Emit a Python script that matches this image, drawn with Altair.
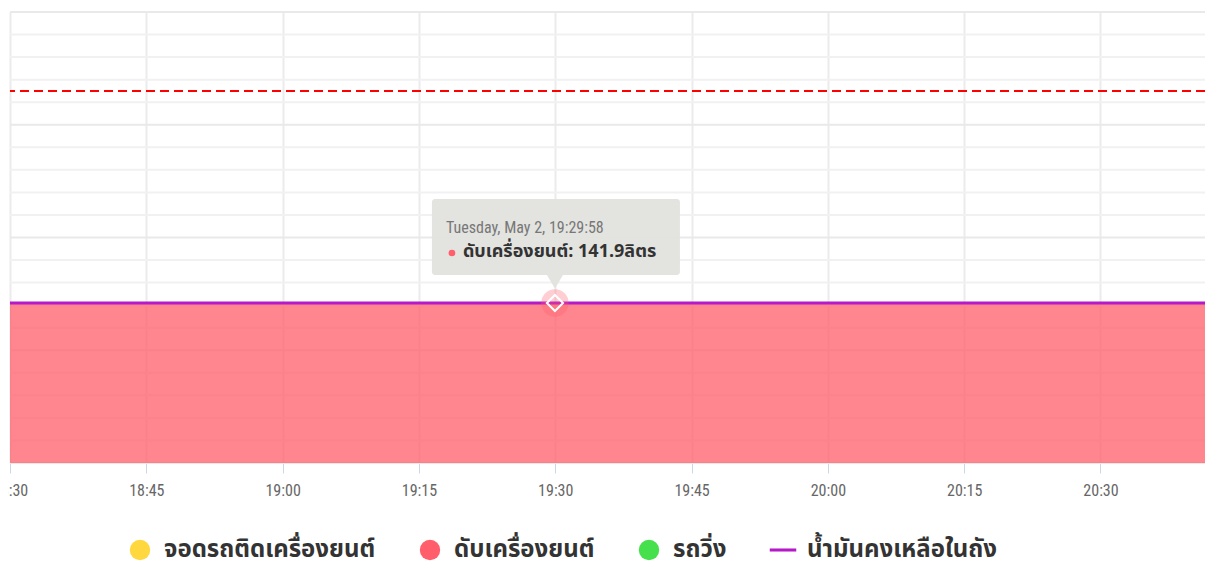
import altair as alt
import pandas as pd

# ---- data ----
times = ["2023-05-02T18:30:00Z", "2023-05-02T19:29:58Z", "2023-05-02T20:41:30Z"]
engine_off = [141.9, 141.9, 141.9]      # ดับเครื่องยนต์ (area)
fuel_left = [141.9, 141.9, 141.9]       # น้ำมันคงเหลือในถัง (line)
tank_limit = [330]                       # red dashed reference line
series_names = ["จอดรถติดเครื่องยนต์", "ดับเครื่องยนต์", "รถวิ่ง", "น้ำมันคงเหลือในถัง"]
series_colors = ["#ffd83f", "#ff5e6a", "#45e04b", "#b51ac8"]
hover_time = "2023-05-02T19:29:58Z"
hover_value = 141.9
hover_head = "Tuesday, May 2, 19:29:58"
unit = "ลิตร"
tick_times = [(18, 30), (18, 45), (19, 0), (19, 15), (19, 30), (19, 45),
              (20, 0), (20, 15), (20, 30)]

x_start = alt.DateTime(year=2023, month=5, date=2, hours=18, minutes=30, utc=True)
x_end = alt.DateTime(year=2023, month=5, date=2, hours=20, minutes=41, seconds=30, utc=True)
y_ticks = list(range(0, 401, 20))

THAI = "Noto Sans Thai, Noto Sans, DejaVu Sans, sans-serif"
COND = "Liberation Sans Narrow, Roboto Condensed, Roboto, sans-serif"

df = pd.DataFrame({"t": times, "off": engine_off, "fuel": fuel_left})
hov = pd.DataFrame({"t": [hover_time], "v": [hover_value], "head": [hover_head],
                    "lab": [f"{series_names[1]}: {hover_value}{unit}"]})
lim = pd.DataFrame({"v": tank_limit})
leg = pd.DataFrame({"cat": series_names})
grid = pd.DataFrame({"g": y_ticks})

xscale = alt.Scale(type="utc", domain=[x_start, x_end])
yscale = alt.Scale(domain=[0, 400], nice=False, zero=True)

x_enc = alt.X("t:T", scale=xscale, title=None,
              axis=alt.Axis(format="%H:%M", values=[
                  alt.DateTime(year=2023, month=5, date=2, hours=h, minutes=m, utc=True)
                  for h, m in tick_times],
                            grid=True, gridColor="#ebebeb", gridWidth=2,
                            domainColor="#ccd6eb", domainWidth=1,
                            tickColor="#ccd6eb", tickSize=10, tickWidth=1,
                            labelColor="#666666", labelFontSize=16, labelFont=COND,
                            labelPadding=9, labelFlush=False, labelOverlap=False))

hgrid = alt.Chart(grid).mark_rule(strokeWidth=2).encode(
    y=alt.Y("g:Q", scale=yscale, axis=None),
    color=alt.condition("datum.g % 100 === 0", alt.value("#e9e9e9"), alt.value("#f1f1f1")))

area = alt.Chart(df).mark_area(color=series_colors[1], opacity=0.75,
                               line={"color": "#ff6f78", "strokeWidth": 1}).encode(
    x=x_enc, y=alt.Y("off:Q", scale=yscale, axis=None))

fuel_line = alt.Chart(df).mark_line(color=series_colors[3], strokeWidth=3).encode(
    x=alt.X("t:T", scale=xscale), y=alt.Y("fuel:Q", scale=yscale))

limit_rule = alt.Chart(lim).mark_rule(color="#ff0000", strokeWidth=2, strokeDash=[9, 5]).encode(
    y=alt.Y("v:Q", scale=yscale))

hx = alt.X("t:T", scale=xscale)
hy = alt.Y("v:Q", scale=yscale)

halo = alt.Chart(hov).mark_point(filled=True, shape="circle", size=750, color="#ff5e6a",
                                 opacity=0.3).encode(x=hx, y=hy)
diamond = alt.Chart(hov).mark_point(filled=False, shape="diamond", size=260, color="#ffffff",
                                    strokeWidth=2, opacity=1).encode(x=hx, y=hy)

box = alt.Chart(hov).mark_rect(fill="#e1e1de", opacity=0.95, cornerRadius=3,
                               xOffset=-123, x2Offset=125, yOffset=-104, y2Offset=-28).encode(
    x=hx, x2="t:T", y=hy, y2="v:Q")
pointer = alt.Chart(hov).mark_point(filled=True, shape="M-1,0L1,0L0,1.7Z", size=256,
                                    color="#e1e1de", opacity=0.95, yOffset=-28).encode(x=hx, y=hy)
head_txt = alt.Chart(hov).mark_text(align="left", baseline="middle", font=COND, fontSize=16,
                                    color="#777777", dx=-109, dy=-75).encode(x=hx, y=hy, text="head:N")
bullet = alt.Chart(hov).mark_point(filled=True, shape="circle", size=45, color="#ff5e6a",
                                   opacity=1, xOffset=-103, yOffset=-50).encode(x=hx, y=hy)
lab_txt = alt.Chart(hov).mark_text(align="left", baseline="middle", font=THAI, fontSize=18,
                                   fontWeight="bold", color="#333333", dx=-92, dy=-51).encode(
    x=hx, y=hy, text="lab:N")

leg_props = dict(title=None, orient="none", legendX=118, legendY=526,
                 direction="horizontal", symbolSize=415,
                 symbolStrokeWidth=0, labelFont=THAI, labelFontSize=24,
                 labelFontWeight="bold", labelColor="#333333", labelLimit=0,
                 labelOffset=12, columnPadding=42, padding=0)

legend_layer = alt.Chart(leg).mark_point(filled=True, opacity=1).encode(
    color=alt.Color("cat:N", scale=alt.Scale(domain=series_names, range=series_colors),
                    legend=alt.Legend(**leg_props)),
    shape=alt.Shape("cat:N", scale=alt.Scale(domain=series_names,
                                             range=["circle", "circle", "circle",
                                                    "M-1.3,-0.15H1.3V0.15H-1.3Z"]),
                    legend=alt.Legend(**leg_props)),
).transform_filter("false")

chart = alt.layer(hgrid, area, limit_rule, fuel_line, halo, diamond, box, pointer, head_txt,
                  bullet, lab_txt, legend_layer).properties(
    width=1195, height=451,
    autosize=alt.AutoSizeParams(type="none"),
    padding={"left": 2, "top": 4, "right": 0, "bottom": 101},
).configure_view(strokeWidth=0).configure(background="#ffffff")

chart.save("out.html", embed_options={"renderer": "svg", "actions": False})
